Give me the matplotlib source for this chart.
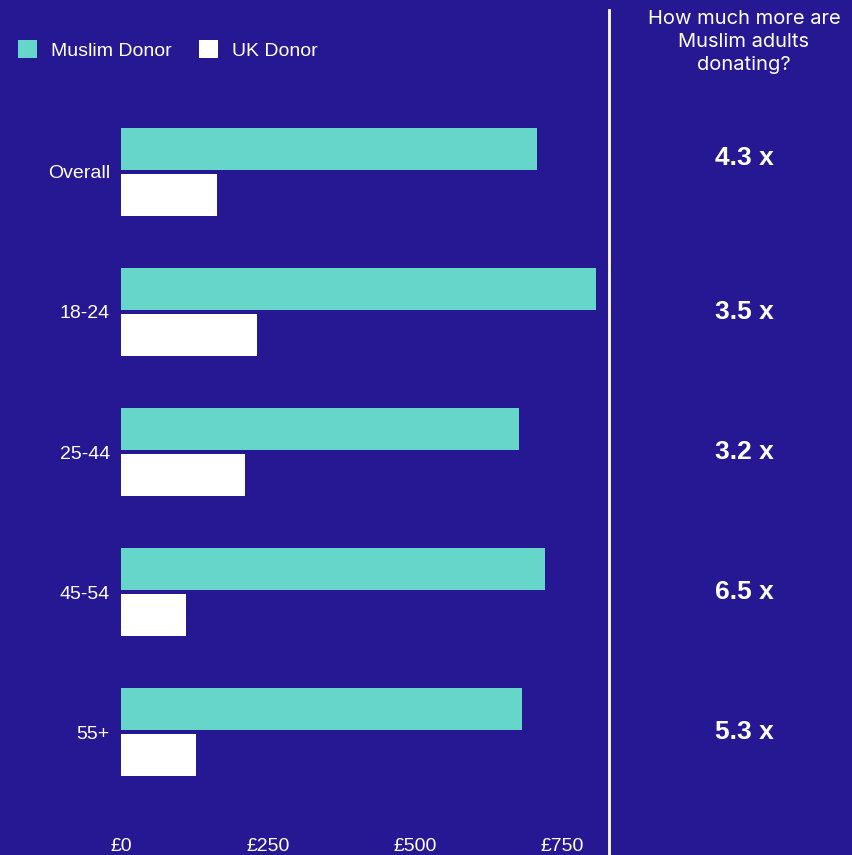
import matplotlib.pyplot as plt
from matplotlib.patches import Patch
from matplotlib.lines import Line2D

# values in GBP
GROUPS = ['Overall', '18-24', '25-44', '45-54', '55+']
MUSLIM = [707, 808, 677, 721, 682]
UK = [163, 231, 211, 111, 128]
XTICKS = [0, 250, 500, 750]
XTICK_LABELS = ['£0', '£250', '£500', '£750']

BG = '#251892'
TEAL = '#66D6CA'

W, H = 853, 855
fig = plt.figure(figsize=(W / 100, H / 100), dpi=100, facecolor=BG)

# axes placed in pixel terms
left, right, top, bottom = 121, 609, 102, 802
ax = fig.add_axes([left / W, 1 - bottom / H, (right - left) / W, (bottom - top) / H])
ax.set_facecolor(BG)

ypos = list(range(len(GROUPS)))
bh = 0.3
off = 0.165
ax.barh([y - off for y in ypos], MUSLIM, height=bh, color=TEAL)
ax.barh([y + off for y in ypos], UK, height=bh, color='white')

ax.set_xlim(0, (right - left) / 0.588)
ax.set_ylim(len(GROUPS) - 0.5, -0.5)
ax.set_yticks(ypos)
ax.set_yticklabels(GROUPS, fontsize=14, color='white', family='Liberation Sans')
ax.set_xticks(XTICKS)
ax.set_xticklabels(XTICK_LABELS, fontsize=14, color='white', family='Liberation Sans')
ax.tick_params(length=0)
ax.tick_params(axis='y', pad=8)
ax.tick_params(axis='x', pad=26)
for s in ax.spines.values():
    s.set_visible(False)

# divider line
fig.add_artist(Line2D([right / W, right / W], [0, 1 - 10 / H], color='white', lw=2))

# ratio column
col_x = 744 / W
fig.text(col_x, 1 - 42 / H, 'How much more are\nMuslim adults\ndonating?', ha='center', va='center',
         color='white', fontsize=14.5, family='Inter', linespacing=1.35)
for y, m, u in zip(ypos, MUSLIM, UK):
    ypix = top + (y + 0.5) * 140 - (14 if y == 0 else 0)
    fig.text(col_x, 1 - ypix / H, '%.1f x' % (m / u), ha='center', va='center',
             color='white', fontsize=19, fontweight='bold', family='Liberation Sans')

# legend
handles = [Patch(facecolor=TEAL, label='Muslim Donor'), Patch(facecolor='white', label='UK Donor')]
leg = fig.legend(handles=handles, loc='center left', bbox_to_anchor=(0, 1 - 50 / H), ncol=2,
                 frameon=False, handlelength=1.0, handleheight=1.0, handletextpad=0.7, columnspacing=1.4,
                 prop={'family': 'Liberation Sans', 'size': 14})
for t in leg.get_texts():
    t.set_color('white')

fig.savefig('out.png', dpi=100, facecolor=BG)
